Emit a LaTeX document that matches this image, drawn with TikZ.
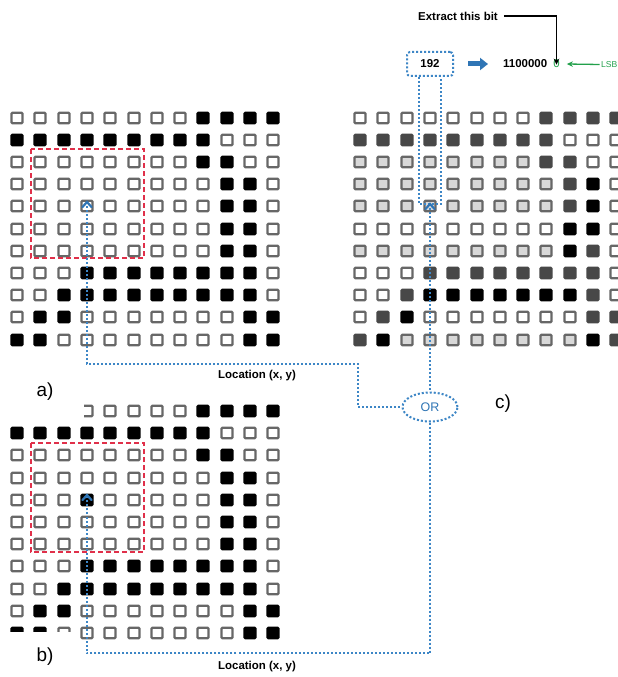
\documentclass[tikz,border=0pt]{standalone}
\usepackage{fontspec}
\setmainfont{Liberation Sans}
\usetikzlibrary{arrows.meta,shapes.geometric}
\definecolor{sqgray}{HTML}{676767}
\definecolor{sqlight}{HTML}{D8D8D8}
\definecolor{sqdark}{HTML}{484848}
\definecolor{linkblue}{HTML}{3D86C6}
\definecolor{fatblue}{HTML}{2F75B5}
\definecolor{roired}{HTML}{E0304A}
\definecolor{lsbgreen}{HTML}{22A04B}
\begin{document}
\begin{tikzpicture}[x=1bp,y=-1bp,
  k0/.style={fill=white,draw=sqgray,line width=2.2bp,rounded corners=1bp},
  k1/.style={fill=sqlight,draw=sqgray,line width=2.2bp,rounded corners=1bp},
  k2/.style={fill=sqdark,draw=sqdark,line width=2.2bp,rounded corners=1bp},
  k3/.style={fill=black,draw=black,line width=2.2bp,rounded corners=1bp},
  dots/.style={draw=linkblue,line width=2bp,dash pattern=on 2bp off 2bp},
  roi/.style={draw=roired,line width=2bp,dash pattern=on 5bp off 3bp},
  chev/.style={draw=fatblue,line width=2.2bp,line cap=round,line join=miter},
  lbl/.style={font=\fontsize{19}{21}\selectfont,inner sep=0pt},
  bsmall/.style={font=\bfseries\fontsize{11.5}{13}\selectfont,inner sep=1bp},
]
\useasboundingbox (0,0) rectangle (618,677);
\clip (0,0) rectangle (618,677);
\fill[white] (0,0) rectangle (618,677);

% binary image a)
\foreach \row [count=\j from 0] in {
  {0,0,0,0,0,0,0,0,3,3,3,3},
  {3,3,3,3,3,3,3,3,3,0,0,0},
  {0,0,0,0,0,0,0,0,3,3,0,0},
  {0,0,0,0,0,0,0,0,0,3,3,0},
  {0,0,0,0,0,0,0,0,0,3,3,0},
  {0,0,0,0,0,0,0,0,0,3,3,0},
  {0,0,0,0,0,0,0,0,0,3,3,0},
  {0,0,0,3,3,3,3,3,3,3,3,0},
  {0,0,3,3,3,3,3,3,3,3,3,0},
  {0,3,3,0,0,0,0,0,0,0,3,3},
  {3,3,0,0,0,0,0,0,0,0,3,3}} {
  \foreach \v [count=\i from 0] in \row {
    \path[k\v] ({round(12+23.3*\i)-0.5},{round(112.7+22.2*\j)-0.25}) rectangle ++(11,10.5);
  }
}

% binary image b)
\foreach \row [count=\j from 0] in {
  {0,0,0,0,0,0,0,0,3,3,3,3},
  {3,3,3,3,3,3,3,3,3,0,0,0},
  {0,0,0,0,0,0,0,0,3,3,0,0},
  {0,0,0,0,0,0,0,0,0,3,3,0},
  {0,0,0,3,0,0,0,0,0,3,3,0},
  {0,0,0,0,0,0,0,0,0,3,3,0},
  {0,0,0,0,0,0,0,0,0,3,3,0},
  {0,0,0,3,3,3,3,3,3,3,3,0},
  {0,0,3,3,3,3,3,3,3,3,3,0},
  {0,3,3,0,0,0,0,0,0,0,3,3},
  {3,3,0,0,0,0,0,0,0,0,3,3}} {
  \foreach \v [count=\i from 0] in \row {
    \path[k\v] ({round(12+23.3*\i)-0.5},{round(406+22.2*\j)-0.25}) rectangle ++(11,10.5);
  }
}

% grey-level image c)
\foreach \row [count=\j from 0] in {
  {0,0,0,0,0,0,0,0,2,2,2,2},
  {2,2,2,2,2,2,2,2,2,0,0,0},
  {1,1,1,1,1,1,1,1,2,2,0,0},
  {1,1,1,1,1,1,1,1,1,2,3,0},
  {1,1,1,1,1,1,1,1,1,2,3,0},
  {0,0,0,0,0,0,0,0,0,3,3,0},
  {1,1,1,1,1,1,1,1,1,3,2,0},
  {0,0,0,2,2,2,2,2,2,2,2,0},
  {0,0,2,3,3,3,3,3,3,3,2,0},
  {0,2,3,0,0,0,0,0,0,0,2,2},
  {2,3,1,1,1,1,1,1,1,1,3,2}} {
  \foreach \v [count=\i from 0] in \row {
    \path[k\v] ({round(355+23.3*\i)-0.5},{round(112.7+22.2*\j)-0.25}) rectangle ++(11,10.5);
  }
}

% label areas mask the corners of b)
\fill[white] (0,372) rectangle (84,419);
\fill[white] (0,632) rectangle (79,677);

% regions of interest
\draw[roi] (31,149) rectangle (144,258);
\draw[roi] (31,443) rectangle (144,552);

% labels
\node[lbl] (la) at (45,392) {a)};
\node[lbl] (lb) at (45,657) {b)};
\node[lbl] (lc) at (503,404) {c)};

% pixel markers
\coordinate (ma) at (87,202);
\coordinate (mb) at (87,495);
\coordinate (mc) at (430,204);

% pixel value and its bits
\node[bsmall,draw=linkblue,line width=2bp,dash pattern=on 2bp off 2bp,
  rounded corners=3bp,minimum width=46bp,minimum height=24bp] (val) at (430,64) {192};
\node[bsmall,anchor=west] (bits) at (502,64) {1100000};
\node[font=\fontsize{11.5}{13}\selectfont,text=lsbgreen,inner sep=1bp] (zero) at (556.5,64) {0};
\node[font=\fontsize{8.6}{10}\selectfont,text=lsbgreen,anchor=west,inner sep=0.5bp] (lsb) at (600.5,64.5) {LSB};
\node[bsmall] (ext) at (458,16) {Extract this bit};

\draw[line width=1.2bp,-{Stealth[length=6bp,width=5.5bp]}] ([xshift=5bp]ext.east) -| ([yshift=-6bp]zero.north);
\draw[lsbgreen,line width=1.3bp,-{Stealth[length=6bp,width=5.5bp]}] ([xshift=-1bp]lsb.west) -- ([xshift=6bp]zero.east);
\draw[fatblue,line width=5bp,-{Triangle[length=8bp,width=12bp]},shorten <=14bp,shorten >=14bp] (val.east) -- (bits.west);

% link from the value box into c)
\coordinate (vl) at ([xshift=-11bp]val.south);
\coordinate (vr) at ([xshift=11bp]val.south);
\draw[dots] (vl) -- (vl |- 0,204) -- (vr |- 0,204) -- (vr);

% OR of the two locations
\node[dots,ellipse,text=fatblue,font=\fontsize{12.5}{14}\selectfont,
  minimum width=55bp,minimum height=29bp,inner sep=0pt] (or) at (430,407) {OR};

\coordinate (a1) at (87,364);
\coordinate (a2) at (358,364);
\coordinate (b1) at (430,653);
\coordinate (b2) at (87,653);
\draw[dots] (ma) -- (a1) -- (a2) |- (or.west);
\draw[dots] (mc) -- (or.north);
\draw[dots] (or.south) -- (b1) -- (b2) -- (mb);

\node[bsmall] (loca) at (257,376) {Location (x, y)};
\node[bsmall] (locb) at (257,667) {Location (x, y)};

% chevrons on the marked pixels
\foreach \m in {ma,mb,mc} {
  \draw[chev] (\m) ++(-4.5,5) -- ++(4.5,-5) -- ++(4.5,5);
}
\end{tikzpicture}
\end{document}
